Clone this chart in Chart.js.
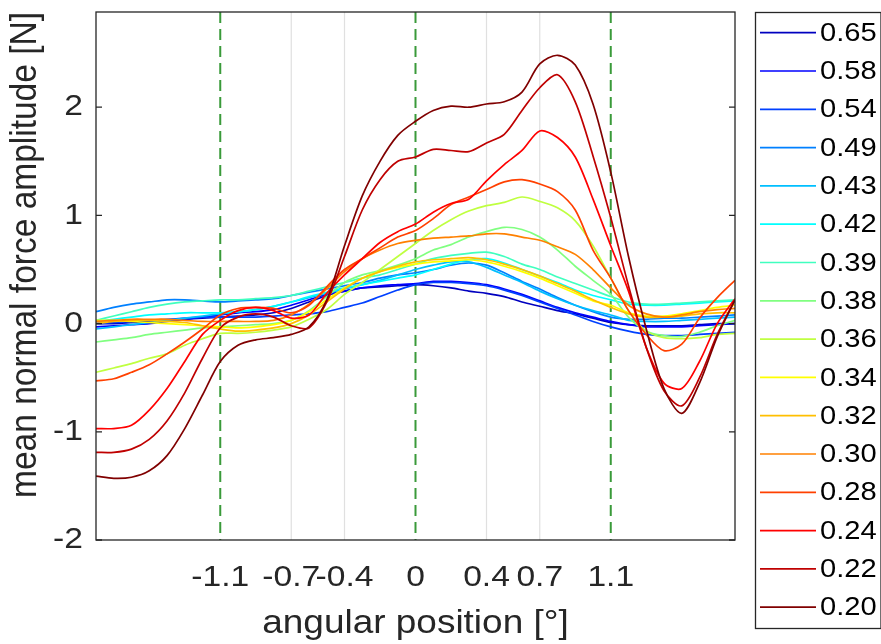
<!DOCTYPE html>
<html>
<head>
<meta charset="utf-8">
<script src="https://cdn.jsdelivr.net/npm/chart.js@4/dist/chart.umd.min.js"></script>
<style>
  html, body { margin: 0; padding: 0; background: #fff; }
</style>
</head>
<body>
<canvas id="force-chart" width="881" height="644"></canvas>
<script>
// angular position [deg]
const angle = [-1.8,-1.7,-1.6,-1.5,-1.4,-1.3,-1.2,-1.1,-1.0,-0.9,-0.8,-0.7,-0.6,-0.5,-0.4,-0.3,-0.2,-0.1,0,
  0.1,0.2,0.3,0.4,0.5,0.6,0.7,0.8,0.9,1.0,1.1,1.2,1.3,1.4,1.5,1.6,1.7,1.8];

// mean normal force amplitude [N], one series per ratio
const f065 = [0.00,0.00,0.01,0.02,0.03,0.04,0.05,0.06, 0.07,0.08,0.10,0.14, 0.20,0.26,0.30, 0.33,0.34,0.35,0.36, 0.35,0.33,0.30,0.28, 0.25,0.20,0.16, 0.12,0.09,0.05,0.01, -0.01,-0.02,-0.02,-0.02,-0.01,0.00,0.00];
const f058 = [-0.03,-0.02,-0.01,0.00,0.02,0.04,0.06,0.08, 0.10,0.11,0.13,0.17, 0.22,0.27,0.30, 0.33,0.35,0.36,0.37, 0.39,0.39,0.38,0.36, 0.32,0.27,0.21, 0.15,0.10,0.06,0.02, -0.01,-0.03,-0.03,-0.03,-0.02,-0.01,0.00];
const f054 = [0.00,0.01,0.02,0.03,0.04,0.05,0.06,0.06, 0.06,0.06,0.07,0.08, 0.09,0.11,0.15, 0.19,0.25,0.31,0.36, 0.38,0.38,0.37,0.35, 0.31,0.26,0.20, 0.14,0.08,0.02,-0.03, -0.07,-0.10,-0.11,-0.11,-0.10,-0.09,-0.08];
const f049 = [0.11,0.15,0.18,0.20,0.22,0.22,0.21,0.20, 0.21,0.22,0.23,0.26, 0.29,0.32,0.35, 0.38,0.42,0.45,0.47, 0.50,0.54,0.56,0.54, 0.47,0.39,0.32, 0.24,0.17,0.11,0.06, 0.04,0.04,0.05,0.05,0.06,0.07,0.08];
const f043 = [-0.05,-0.03,-0.01,0.01,0.03,0.05,0.07,0.09, 0.11,0.13,0.16,0.20, 0.24,0.28,0.32, 0.36,0.40,0.45,0.50, 0.54,0.57,0.57,0.52, 0.45,0.38,0.30, 0.23,0.17,0.12,0.08, 0.03,0.02,0.02,0.03,0.04,0.05,0.06];
const f042 = [0.02,0.04,0.06,0.08,0.09,0.10,0.10,0.10, 0.11,0.13,0.16,0.20, 0.25,0.29,0.33, 0.36,0.39,0.42,0.45, 0.50,0.55,0.59,0.60, 0.56,0.50,0.44, 0.38,0.31,0.26,0.22, 0.18,0.17,0.17,0.18,0.19,0.20,0.21];
const f039 = [0.03,0.07,0.11,0.15,0.18,0.20,0.21,0.22, 0.22,0.23,0.24,0.26, 0.30,0.34,0.38, 0.42,0.45,0.50,0.55, 0.60,0.63,0.65,0.66, 0.62,0.55,0.50, 0.43,0.37,0.31,0.25, 0.20,0.18,0.18,0.19,0.20,0.21,0.22];
const f038 = [-0.17,-0.15,-0.13,-0.10,-0.08,-0.06,-0.04,-0.03, -0.02,-0.01,0.00,0.03, 0.12,0.25,0.38, 0.45,0.49,0.54,0.60, 0.68,0.73,0.80,0.85, 0.89,0.87,0.80, 0.68,0.53,0.40,0.27, 0.06,-0.07,-0.11,-0.12,-0.08,-0.02,0.03];
const f036 = [-0.45,-0.41,-0.37,-0.32,-0.28,-0.20,-0.14,-0.09, -0.09,-0.08,-0.06,-0.03, 0.04,0.13,0.27, 0.38,0.50,0.62,0.74, 0.86,0.96,1.04,1.09, 1.12,1.17,1.13, 1.07,0.95,0.72,0.42, 0.12,-0.07,-0.13,-0.14,-0.13,-0.10,-0.09];
const f034 = [0.03,0.03,0.02,0.01,0.00,-0.01,-0.02,-0.03, -0.04,-0.03,-0.01,0.03, 0.11,0.22,0.33, 0.42,0.48,0.52,0.55, 0.57,0.58,0.59,0.57, 0.53,0.48,0.42, 0.35,0.28,0.21,0.17, 0.10,0.07,0.07,0.09,0.12,0.15,0.17];
const f032 = [0.00,0.02,0.03,0.03,0.02,0.01,-0.02,-0.05, -0.07,-0.06,-0.04,0.00, 0.08,0.20,0.32, 0.42,0.48,0.53,0.57, 0.59,0.60,0.61,0.59, 0.55,0.50,0.44, 0.37,0.30,0.22,0.15, 0.09,0.06,0.06,0.07,0.09,0.10,0.10];
const f030 = [0.02,0.03,0.04,0.04,0.04,0.03,0.02,0.02, 0.02,0.02,0.03,0.08, 0.18,0.32,0.48, 0.60,0.68,0.74,0.77, 0.79,0.80,0.81,0.83, 0.83,0.80,0.77, 0.71,0.64,0.50,0.33, 0.17,0.09,0.06,0.08,0.11,0.13,0.14];
const f028 = [-0.53,-0.51,-0.45,-0.38,-0.28,-0.17,-0.05,0.08, 0.14,0.15,0.14,0.10, 0.17,0.34,0.50, 0.60,0.70,0.80,0.86, 0.97,1.10,1.17,1.24, 1.31,1.33,1.29, 1.22,1.05,0.68,0.42, 0.12,-0.10,-0.25,-0.19,0.05,0.24,0.40];
const f024 = [-0.97,-0.97,-0.94,-0.80,-0.60,-0.35,-0.10,0.03, 0.12,0.15,0.12,0.05, 0.08,0.28,0.45, 0.60,0.75,0.85,0.92, 1.03,1.11,1.15,1.32, 1.47,1.60,1.78, 1.72,1.54,1.15,0.72, 0.30,-0.22,-0.55,-0.60,-0.35,0.00,0.23];
const f022 = [-1.19,-1.19,-1.16,-1.07,-0.90,-0.64,-0.32,-0.04, 0.06,0.09,0.06,-0.02, -0.04,0.20,0.62, 1.05,1.33,1.50,1.54, 1.61,1.60,1.59,1.67, 1.75,1.97,2.18, 2.30,2.05,1.55,0.98, 0.35,-0.22,-0.62,-0.76,-0.50,-0.10,0.22];
const f020 = [-1.41,-1.43,-1.42,-1.36,-1.22,-0.97,-0.66,-0.35, -0.20,-0.15,-0.13,-0.10, -0.03,0.22,0.72, 1.18,1.50,1.74,1.87, 1.97,2.01,2.00,2.03, 2.05,2.14,2.40, 2.48,2.39,2.03,1.40, 0.62,-0.05,-0.60,-0.83,-0.55,-0.12,0.22];

const ratios = ['0.65','0.58','0.54','0.49','0.43','0.42','0.39','0.38','0.36','0.34','0.32','0.30','0.28','0.24','0.22','0.20'];
const series = [f065,f058,f054,f049,f043,f042,f039,f038,f036,f034,f032,f030,f028,f024,f022,f020];
// jet colormap, 16 steps
const colors = ['#0000bf','#0000ff','#0040ff','#0080ff','#00bfff','#00ffff','#40ffbf','#80ff80',
  '#bfff40','#ffff00','#ffbf00','#ff8000','#ff4000','#ff0000','#bf0000','#800000'];

const xTicks = [-1.1,-0.7,-0.4,0,0.4,0.7,1.1];
const yTicks = [-2,-1,0,1,2];
const gridAngles = [-0.7,-0.4,0.4,0.7];
const boundaryAngles = [-1.1,0,1.1];

const ink = '#262626';
const font = 'Liberation Sans, Arial, Helvetica, sans-serif';

const canvas = document.getElementById('force-chart');

// the figure's lettering is set wider than the font's natural width
const textStretch = 1.12;
(function widenText(ctx) {
  const fill = ctx.fillText;
  ctx.fillText = function (text, x, y, maxWidth) {
    const m = this.getTransform();
    const p = m.transformPoint(new DOMPoint(x, y));
    this.setTransform(new DOMMatrix().translate(p.x, p.y).scale(textStretch, 1).translate(-p.x, -p.y).multiply(m));
    if (maxWidth === undefined) fill.call(this, text, x, y);
    else fill.call(this, text, x, y, maxWidth);
    this.setTransform(m);
  };
})(canvas.getContext('2d'));

const datasets = series.map((vals, i) => ({
  label: ratios[i],
  data: angle.map((a, j) => ({x: a, y: vals[j]})),
  borderColor: colors[i],
  borderWidth: 1.7,
  pointRadius: 0,
  tension: 0.3,
  fill: false,
  order: series.length - i
}));

const figure = {
  id: 'figure',
  beforeDatasetsDraw(chart) {
    const {ctx, chartArea: a, scales: {x}} = chart;
    ctx.save();
    ctx.lineWidth = 1.2;
    ctx.strokeStyle = '#e0e0e0';
    gridAngles.forEach(v => {
      const px = x.getPixelForValue(v);
      ctx.beginPath(); ctx.moveTo(px, a.top); ctx.lineTo(px, a.bottom); ctx.stroke();
    });
    ctx.strokeStyle = '#3a9a3a';
    ctx.lineWidth = 2;
    ctx.setLineDash([11, 6]);
    boundaryAngles.forEach(v => {
      const px = x.getPixelForValue(v);
      ctx.beginPath(); ctx.moveTo(px, a.top); ctx.lineTo(px, a.bottom); ctx.stroke();
    });
    ctx.restore();
  },
  afterDatasetsDraw(chart) {
    const {ctx, chartArea: a, scales: {y}} = chart;
    ctx.save();
    ctx.strokeStyle = ink;
    ctx.lineWidth = 1.3;
    ctx.strokeRect(a.left, a.top, a.right - a.left, a.bottom - a.top);
    yTicks.forEach(v => {
      const py = y.getPixelForValue(v);
      ctx.beginPath();
      ctx.moveTo(a.left, py); ctx.lineTo(a.left + 6, py);
      ctx.moveTo(a.right, py); ctx.lineTo(a.right - 6, py);
      ctx.stroke();
    });
    ctx.restore();
  },
  afterDraw(chart) {
    // boxed legend to the right of the axes
    const {ctx} = chart;
    const box = {left: 755.5, top: 12.5, bottom: 628.5, right: 881};
    const rowTop = 32.7, rowStep = 38.3;
    ctx.save();
    ctx.strokeStyle = ink;
    ctx.lineWidth = 1.3;
    ctx.strokeRect(box.left, box.top, box.right - box.left, box.bottom - box.top);
    ctx.font = '26px ' + font;
    ctx.textBaseline = 'middle';
    ctx.fillStyle = '#000';
    chart.data.datasets.forEach((ds, i) => {
      const ry = rowTop + i * rowStep;
      ctx.strokeStyle = ds.borderColor;
      ctx.lineWidth = 1.7;
      ctx.beginPath(); ctx.moveTo(760, ry); ctx.lineTo(816, ry); ctx.stroke();
      ctx.fillText(ds.label, 820, ry + 1);
    });
    ctx.restore();
  }
};

new Chart(canvas, {
  type: 'line',
  data: {datasets},
  options: {
    responsive: false,
    animation: false,
    devicePixelRatio: 1,
    layout: {padding: {top: 12, right: 146, bottom: 0, left: 0}},
    plugins: {legend: {display: false}, tooltip: {enabled: false}},
    scales: {
      x: {
        type: 'linear',
        min: -1.8,
        max: 1.8,
        afterBuildTicks: s => { s.ticks = xTicks.map(v => ({value: v})); },
        afterFit: s => { s.height = 104; s.paddingLeft = 0; s.paddingRight = 0; },
        grid: {display: false, drawTicks: false},
        border: {display: false},
        ticks: {
          autoSkip: false, maxRotation: 0, padding: 20,
          color: ink, font: {family: font, size: 30},
          callback: v => String(v)
        },
        title: {
          display: true, text: 'angular position [°]',
          color: ink, font: {family: font, size: 33}, padding: {top: 0, bottom: 0}
        }
      },
      y: {
        type: 'linear',
        min: -2,
        max: 2.88,
        afterBuildTicks: s => { s.ticks = yTicks.map(v => ({value: v})); },
        afterFit: s => { s.width = 96; s.paddingTop = 0; s.paddingBottom = 0; },
        grid: {display: false, drawTicks: false},
        border: {display: false},
        ticks: {
          padding: 13,
          color: ink, font: {family: font, size: 30},
          callback: v => String(v)
        },
        title: {
          display: true, text: 'mean normal force amplitude [N]', align: 'end',
          color: ink, font: {family: font, size: 33.5}, padding: {top: 6, bottom: 0}
        }
      }
    }
  },
  plugins: [figure]
});
</script>
</body>
</html>
